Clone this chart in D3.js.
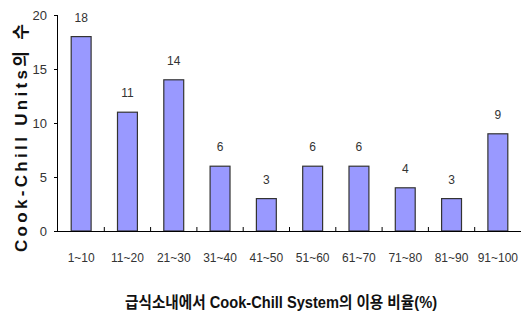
<!DOCTYPE html>
<html>
<head>
<meta charset="utf-8">
<script src="https://cdn.jsdelivr.net/npm/d3@7"></script>
<style>
  body { margin: 0; background: #fff; }
  svg { display: block; }
  text { font-family: "Liberation Sans", Arial, "Noto Sans CJK KR", sans-serif; }
</style>
</head>
<body>
<svg id="chart" width="524" height="320"></svg>
<script>
// --- Data ---
const categories = ["1~10", "11~20", "21~30", "31~40", "41~50", "51~60", "61~70", "71~80", "81~90", "91~100"];
const counts = [18, 11, 14, 6, 3, 6, 6, 4, 3, 9];
const yTicks = [0, 5, 10, 15, 20];
const xTitle = "급식소내에서 Cook-Chill System의 이용 비율(%)";
const yTitle = "Cook-Chill Units의 수";

const svg = d3.select("#chart");
const margin = { left: 58, right: 3, top: 15, bottom: 89 };
const W = +svg.attr("width"), H = +svg.attr("height");

const x = d3.scaleBand()
  .domain(categories)
  .range([margin.left, W - margin.right])
  .paddingInner(0.57)
  .paddingOuter(0.285);

const y = d3.scaleLinear()
  .domain([0, 20])
  .range([H - margin.bottom, margin.top]);

// bars
svg.append("g")
  .selectAll("rect")
  .data(counts)
  .join("rect")
  .attr("x", (d, i) => x(categories[i]))
  .attr("y", (d) => y(d))
  .attr("width", x.bandwidth())
  .attr("height", (d) => y(0) - y(d))
  .attr("fill", "#9999ff")
  .attr("stroke", "#333")
  .attr("stroke-width", 1.2);

// value labels
svg.append("g")
  .selectAll("text")
  .data(counts)
  .join("text")
  .attr("x", (d, i) => x(categories[i]) + x.bandwidth() / 2)
  .attr("y", (d) => y(d) - 15)
  .attr("text-anchor", "middle")
  .attr("font-size", 12)
  .attr("fill", "#333")
  .text((d) => d);

// y axis
const yAxis = svg.append("g")
  .attr("transform", `translate(${margin.left},0)`)
  .call(d3.axisLeft(y).tickValues(yTicks).tickSize(4).tickPadding(7));
yAxis.select(".domain").attr("stroke", "#000").attr("d", `M-0.5,${y(20)}V${y(0)}`);
yAxis.selectAll("text").attr("font-size", 13).attr("fill", "#333").attr("font-family", "Liberation Sans Narrow, Arial, sans-serif");

// x axis: ticks between categories, pointing up
const bounds = d3.range(1, categories.length).map((i) => x(categories[i]) - x.step() * x.paddingInner() / 2);
const xg = svg.append("g");
xg.append("line")
  .attr("x1", margin.left).attr("x2", W - margin.right)
  .attr("y1", y(0) + 0.5).attr("y2", y(0) + 0.5)
  .attr("stroke", "#000");
xg.selectAll(".tk")
  .data(bounds)
  .join("line")
  .attr("class", "tk")
  .attr("x1", (d) => d).attr("x2", (d) => d)
  .attr("y1", y(0)).attr("y2", y(0) - 4)
  .attr("stroke", "#000");
xg.selectAll(".lbl")
  .data(categories)
  .join("text")
  .attr("class", "lbl")
  .attr("x", (d) => x(d) + x.bandwidth() / 2)
  .attr("y", y(0) + 31)
  .attr("text-anchor", "middle")
  .attr("font-size", 12)
  .attr("fill", "#333")
  .attr("font-family", "Liberation Sans Narrow, Arial, sans-serif")
  .text((d) => d);

// titles
svg.append("text")
  .attr("x", 281)
  .attr("y", 308)
  .attr("text-anchor", "middle")
  .attr("font-size", 16)
  .attr("font-weight", "bold")
  .attr("textLength", 312)
  .attr("lengthAdjust", "spacingAndGlyphs")
  .attr("fill", "#111")
  .text(xTitle);

svg.append("text")
  .attr("transform", "translate(27,138) rotate(-90)")
  .attr("text-anchor", "middle")
  .attr("font-size", 17)
  .attr("font-weight", "bold")
  .attr("textLength", 228)
  .attr("lengthAdjust", "spacing")
  .attr("fill", "#111")
  .text(yTitle);
</script>
</body>
</html>
